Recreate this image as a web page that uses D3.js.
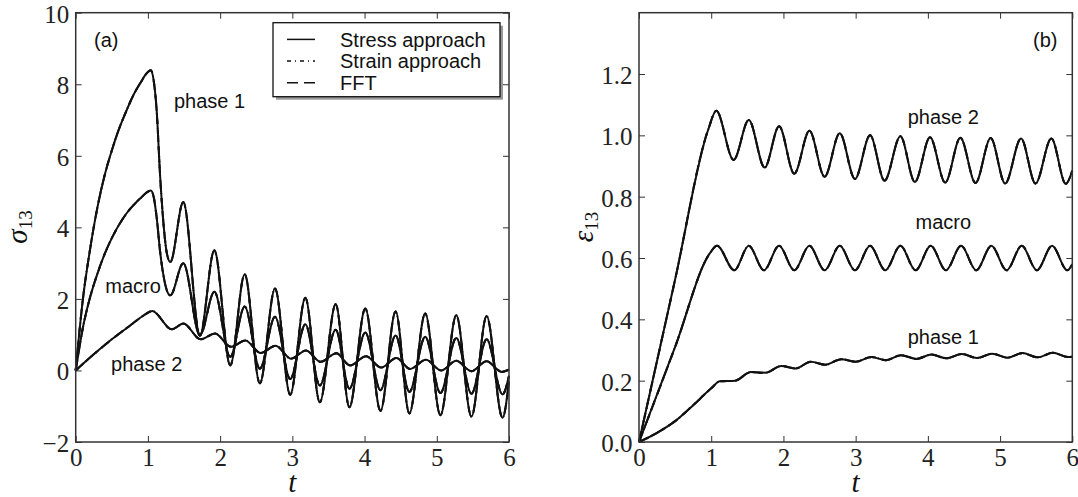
<!DOCTYPE html>
<html>
<head>
<meta charset="utf-8">
<script src="https://cdn.jsdelivr.net/npm/d3@7"></script>
<style>
body { margin: 0; background: #fff; }
</style>
</head>
<body>
<svg width="1078" height="497"></svg>
<script>
//tick values
var tTicks = [0, 1, 2, 3, 4, 5, 6];
var sigmaTicks = [-2, 0, 2, 4, 6, 8, 10];
var epsTicks = [0, 0.2, 0.4, 0.6, 0.8, 1.0, 1.2];

//(a) sigma_13 curves, [t, value]
var sigPhase1 = [[0,0],[0.1,2.0],[0.2,3.4],[0.3,4.55],[0.4,5.45],[0.5,6.15],[0.6,6.75],[0.7,7.25],[0.8,7.7],[0.9,8.05],[0.98,8.3],[1.04,8.39],
  [1.08,8.1],[1.12,7.3],[1.17,5.4],[1.22,4.0],[1.26,3.3],[1.31,3.03],[1.49,4.71],[1.72,0.98],[1.92,3.36],[2.14,0.14],[2.34,2.69],
  [2.55,-0.36],[2.76,2.29],[2.97,-0.68],[3.18,2.03],[3.38,-0.89],[3.6,1.85],[3.79,-1.03],[4.01,1.73],[4.22,-1.13],[4.43,1.65],
  [4.62,-1.2],[4.84,1.59],[5.05,-1.25],[5.27,1.54],[5.48,-1.29],[5.69,1.52],[5.91,-1.32],[6.0,-0.3]];
var sigMacro = [[0,0],[0.1,1.2],[0.2,2.05],[0.3,2.7],[0.4,3.25],[0.5,3.7],[0.6,4.07],[0.7,4.38],[0.8,4.62],[0.9,4.82],[0.98,4.97],[1.04,5.03],
  [1.08,4.85],[1.12,4.3],[1.17,3.3],[1.22,2.6],[1.26,2.25],[1.31,2.1],[1.49,3.0],[1.72,0.98],[1.92,2.2],[2.14,0.38],[2.34,1.79],
  [2.55,0.05],[2.76,1.5],[2.97,-0.24],[3.18,1.29],[3.38,-0.42],[3.6,1.14],[3.79,-0.51],[4.01,1.06],[4.22,-0.55],[4.43,0.98],
  [4.62,-0.6],[4.84,0.94],[5.05,-0.63],[5.27,0.91],[5.48,-0.65],[5.69,0.87],[5.91,-0.67],[6.0,-0.15]];
var sigPhase2 = [[0,0],[0.25,0.45],[0.5,0.87],[0.75,1.25],[0.95,1.55],[1.06,1.66],[1.33,1.15],[1.49,1.31],[1.73,0.87],[1.93,1.03],
  [2.15,0.66],[2.35,0.84],[2.56,0.49],[2.77,0.69],[2.98,0.33],[3.19,0.56],[3.39,0.24],[3.61,0.48],[3.8,0.14],[4.02,0.4],
  [4.23,0.08],[4.44,0.35],[4.63,0.04],[4.85,0.3],[5.06,0.0],[5.27,0.27],[5.48,-0.02],[5.69,0.26],[5.9,-0.04],[6.0,0.03]];

//(b) epsilon_13 curves
var epsPhase2 = [[0,0],[0.5,0.53],[0.96,1.02],[1.07,1.08],[1.31,0.92],[1.52,1.05],[1.74,0.895],[1.94,1.03],[2.15,0.875],[2.36,1.015],
  [2.57,0.865],[2.78,1.007],[2.99,0.858],[3.2,1.0],[3.4,0.852],[3.62,0.997],[3.82,0.848],[4.03,0.994],[4.24,0.846],[4.45,0.992],
  [4.66,0.845],[4.87,0.991],[5.07,0.843],[5.29,0.99],[5.49,0.843],[5.71,0.99],[5.91,0.842],[6.0,0.885]];
var epsMacro = [[0,0],[0.5,0.31],[0.98,0.615],[1.08,0.64],[1.32,0.56],[1.52,0.64],[1.73,0.56],[1.94,0.64],[2.15,0.56],[2.36,0.64],
  [2.57,0.56],[2.78,0.64],[2.99,0.56],[3.2,0.64],[3.41,0.56],[3.62,0.64],[3.83,0.56],[4.04,0.64],[4.25,0.56],[4.46,0.64],
  [4.67,0.56],[4.88,0.64],[5.09,0.56],[5.3,0.64],[5.51,0.56],[5.72,0.64],[5.93,0.56],[6.0,0.58]];
var epsPhase1 = [[0,0],[0.25,0.03],[0.5,0.068],[0.75,0.12],[1.0,0.175],[1.12,0.198],[1.33,0.2],[1.55,0.228],[1.75,0.226],[1.97,0.248],
  [2.17,0.24],[2.38,0.262],[2.58,0.252],[2.8,0.27],[3.0,0.262],[3.22,0.277],[3.42,0.267],[3.63,0.283],[3.84,0.271],[4.05,0.285],
  [4.26,0.273],[4.47,0.287],[4.68,0.274],[4.89,0.288],[5.1,0.275],[5.31,0.29],[5.52,0.276],[5.73,0.291],[5.94,0.277],[6.0,0.278]];

var methods = ["Stress approach", "Strain approach", "FFT"];
var dashes = [null, "4,4,1,4", "11,6"];

var svg = d3.select("svg");
var ink = "#111";
var sansFont = "Liberation Sans, Arial, sans-serif";
var serifFont = "Liberation Serif, DejaVu Serif, serif";

function drawPanel(p) {
  var x = d3.scaleLinear().domain([0, 6]).range([p.left, p.right]);
  var y = d3.scaleLinear().domain(p.yDomain).range([442, 12.7]);
  var g = svg.append("g");

  //ticks on all four sides, pointing in
  var axB = g.append("g").attr("transform", "translate(0,442)")
    .call(d3.axisBottom(x).tickValues(tTicks).tickSize(-6).tickPadding(6).tickFormat(d3.format("d")));
  var axT = g.append("g").attr("transform", "translate(0,12.7)")
    .call(d3.axisTop(x).tickValues(tTicks).tickSize(-6).tickFormat(""));
  var axL = g.append("g").attr("transform", "translate(" + p.left + ",0)")
    .call(d3.axisLeft(y).tickValues(p.yTicks).tickSize(-6).tickPadding(6.5).tickFormat(p.yFormat));
  var axR = g.append("g").attr("transform", "translate(" + p.right + ",0)")
    .call(d3.axisRight(y).tickValues(p.yTicks).tickSize(-6).tickFormat(""));
  [axB, axT, axL, axR].forEach(function(a) {
    a.attr("font-family", serifFont).attr("font-size", 25);
    a.select(".domain").remove();
    a.selectAll("line").attr("stroke", "#333").attr("stroke-width", 1);
    a.selectAll("text").attr("fill", "#222");
  });
  axL.selectAll("text").attr("dy", "0.38em");

  //curves: the three methods coincide
  var line = d3.line()
    .x(function(d) { return x(d[0]); })
    .y(function(d) { return y(d[1]); })
    .curve(d3.curveMonotoneX);
  p.curves.forEach(function(c) {
    dashes.forEach(function(ds) {
      g.append("path").datum(c)
        .attr("d", line)
        .attr("fill", "none")
        .attr("stroke", ink)
        .attr("stroke-width", 2)
        .attr("stroke-dasharray", ds);
    });
  });

  //frame
  g.append("rect")
    .attr("x", p.left).attr("y", 12.7)
    .attr("width", p.right - p.left).attr("height", 442 - 12.7)
    .attr("fill", "none").attr("stroke", "#333").attr("stroke-width", 1.5);

  //curve labels
  p.labels.forEach(function(l) {
    g.append("text")
      .attr("x", x(l.t)).attr("y", y(l.v))
      .attr("font-family", sansFont).attr("font-size", 20)
      .attr("fill", ink)
      .text(l.text);
  });

  //panel tag
  g.append("text")
    .attr("x", p.tagX).attr("y", 47)
    .attr("font-family", sansFont).attr("font-size", 20)
    .attr("fill", ink)
    .text(p.tag);

  //x label
  g.append("text")
    .attr("x", (p.left + p.right) / 2).attr("y", 492)
    .attr("text-anchor", "middle")
    .attr("font-family", serifFont).attr("font-size", 29).attr("font-style", "italic")
    .attr("fill", ink)
    .text("t");

  //y label
  var yl = g.append("text")
    .attr("transform", "translate(" + p.yLabelX + ",227) rotate(-90)")
    .attr("text-anchor", "middle")
    .attr("font-family", serifFont)
    .attr("fill", ink);
  yl.append("tspan").attr("font-size", 29).attr("font-style", "italic").text(p.yName);
  yl.append("tspan").attr("dy", 5).attr("font-size", 19).text("13");

  return g;
}

var gA = drawPanel({
  left: 75.7, right: 509, yDomain: [-2, 10], yTicks: sigmaTicks, yFormat: d3.format("d"),
  curves: [sigPhase1, sigMacro, sigPhase2],
  labels: [{text: "phase 1", t: 1.36, v: 7.33}, {text: "macro", t: 0.41, v: 2.16}, {text: "phase 2", t: 0.49, v: -0.02}],
  tag: "(a)", tagX: 94, yName: "σ", yLabelX: 27
});

drawPanel({
  left: 639, right: 1072.3, yDomain: [0, 1.4], yTicks: epsTicks, yFormat: d3.format(".1f"),
  curves: [epsPhase2, epsMacro, epsPhase1],
  labels: [{text: "phase 2", t: 3.72, v: 1.038}, {text: "macro", t: 3.83, v: 0.696}, {text: "phase 1", t: 3.72, v: 0.321}],
  tag: "(b)", tagX: 1033, yName: "ε", yLabelX: 593
});

//legend with drop shadow
var legend = gA.append("g").attr("transform", "translate(273,22.7)");
legend.append("rect")
  .attr("x", 3).attr("y", 3).attr("width", 227).attr("height", 74)
  .attr("fill", "#999");
legend.append("rect")
  .attr("x", 0).attr("y", 0).attr("width", 227).attr("height", 74)
  .attr("fill", "#fff").attr("stroke", "#111").attr("stroke-width", 1.3);
var rows = legend.selectAll(".row")
  .data(methods)
  .enter().append("g")
  .attr("class", "row")
  .attr("transform", function(d, i) { return "translate(0," + (24 + i * 21.7) + ")"; });
rows.append("line")
  .attr("x1", 14).attr("x2", 42).attr("y1", -7.3).attr("y2", -7.3)
  .attr("stroke", ink).attr("stroke-width", 1.5)
  .attr("stroke-dasharray", function(d, i) { return dashes[i]; });
rows.append("text")
  .attr("x", 67).attr("y", 0)
  .attr("font-family", sansFont).attr("font-size", 20)
  .attr("fill", ink)
  .text(function(d) { return d; });
</script>
</body>
</html>
